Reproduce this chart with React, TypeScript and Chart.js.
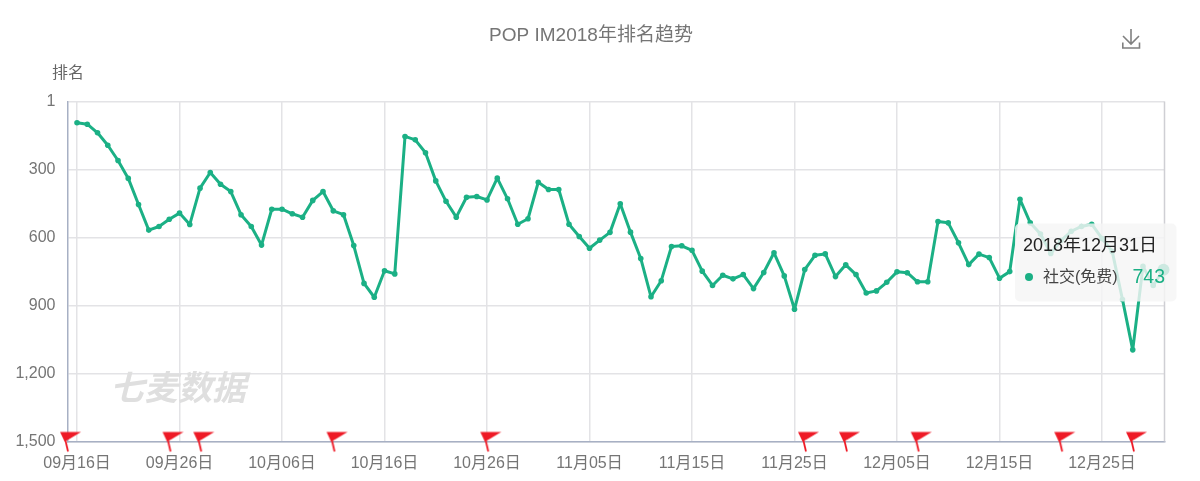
import { useEffect, useRef } from 'react';
import { Chart, registerables } from 'chart.js';

Chart.register(...registerables);

const FONT = '"Liberation Sans", "Noto Sans CJK SC", sans-serif';
const GREEN = '#1bb085';

// days since 09-16, one value per day up to 12-31
const ranks = [
  95, 101, 139, 194, 261, 340, 455, 568, 552, 520,
  493, 543, 383, 314, 366, 398, 500, 552, 634, 476,
  476, 496, 511, 437, 398, 483, 500, 636, 803, 864,
  747, 761, 155, 170, 227, 351, 441, 511, 423, 420,
  435, 339, 430, 542, 518, 357, 389, 389, 542, 596,
  648, 612, 578, 452, 577, 693, 862, 791, 640, 637,
  657, 749, 812, 767, 783, 764, 826, 755, 668, 770,
  917, 742, 679, 673, 773, 721, 764, 845, 836, 798,
  752, 756, 796, 796, 530, 536, 624, 720, 674, 689,
  780, 751, 432, 536, 585, 671, 614, 573, 552, 542,
  605, 662, 874, 1096, 728, 812, 743,
];
const tickDays = [0, 10, 20, 30, 40, 50, 60, 70, 80, 90, 100];
const tickLabels = [
  '09月16日', '09月26日', '10月06日', '10月16日', '10月26日', '11月05日',
  '11月15日', '11月25日', '12月05日', '12月15日', '12月25日',
];
const rankTicks = [1, 300, 600, 900, 1200, 1500];
const flagDays = [0, 10, 13, 26, 41, 72, 76, 83, 97, 104];

const hoverIndex = ranks.length - 1;

// flag marker, the pole foot sits 9px left of the date it belongs to
function makeFlag() {
  const c = document.createElement('canvas');
  c.width = 36;
  c.height = 26;
  const g = c.getContext('2d')!;
  g.fillStyle = '#ee1a26';
  g.beginPath();
  g.moveTo(1, 3.5);
  g.lineTo(22, 3.5);
  g.lineTo(9.5, 11);
  g.lineTo(5.5, 13);
  g.closePath();
  g.fill();
  g.strokeStyle = '#ee1a26';
  g.lineWidth = 1.8;
  g.beginPath();
  g.moveTo(5, 6);
  g.lineTo(9, 23);
  g.stroke();
  return c;
}

const decorations = {
  id: 'decorations',
  beforeDatasetsDraw(chart: any) {
    const { ctx, chartArea } = chart;
    ctx.save();
    // right edge of the plot
    ctx.strokeStyle = '#cfcfd4';
    ctx.lineWidth = 1.5;
    ctx.beginPath();
    ctx.moveTo(chartArea.right, chartArea.top);
    ctx.lineTo(chartArea.right, chartArea.bottom);
    ctx.stroke();
    // watermark
    ctx.fillStyle = '#dfdfdf';
    ctx.font = `italic bold 34px ${FONT}`;
    ctx.textAlign = 'left';
    ctx.textBaseline = 'middle';
    ctx.fillText('七麦数据', 110, 391);
    ctx.restore();
  },
  afterDraw(chart: any) {
    const { ctx } = chart;
    ctx.save();

    // title + y axis name
    ctx.textBaseline = 'middle';
    ctx.textAlign = 'center';
    ctx.fillStyle = '#757575';
    ctx.font = `19px ${FONT}`;
    ctx.fillText('POP IM2018年排名趋势', 591, 36);
    ctx.textAlign = 'left';
    ctx.fillStyle = '#666';
    ctx.font = `16px ${FONT}`;
    ctx.fillText('排名', 52, 74);

    // download icon
    ctx.strokeStyle = '#808080';
    ctx.lineWidth = 1.6;
    ctx.beginPath();
    ctx.moveTo(1131, 29);
    ctx.lineTo(1131, 44);
    ctx.moveTo(1123, 36);
    ctx.lineTo(1131, 44);
    ctx.lineTo(1139, 36);
    ctx.moveTo(1122.8, 42.5);
    ctx.lineTo(1122.8, 48);
    ctx.lineTo(1139.5, 48);
    ctx.lineTo(1139.5, 42.5);
    ctx.stroke();

    // tooltip box for the last day
    ctx.fillStyle = 'rgba(245, 245, 245, 0.82)';
    ctx.beginPath();
    ctx.roundRect(1015, 223.5, 161.5, 78, 5);
    ctx.fill();
    ctx.fillStyle = '#222';
    ctx.font = `18px ${FONT}`;
    ctx.fillText('2018年12月31日', 1023, 246);
    ctx.fillStyle = GREEN;
    ctx.beginPath();
    ctx.arc(1029, 277, 4, 0, Math.PI * 2);
    ctx.fill();
    ctx.fillStyle = '#444';
    ctx.font = `16px ${FONT}`;
    ctx.fillText('社交(免费)', 1043, 278);
    ctx.fillStyle = GREEN;
    ctx.font = `19.5px ${FONT}`;
    ctx.textAlign = 'right';
    ctx.fillText(String(ranks[hoverIndex]), 1165, 278);
    ctx.restore();
  },
};

export default function App() {
  const canvasRef = useRef<HTMLCanvasElement>(null);

  useEffect(() => {
    if (!canvasRef.current) return;
    document.body.style.margin = '0';

    const chart = new Chart(canvasRef.current, {
      type: 'line',
      data: {
        datasets: [
          {
            label: '社交(免费)',
            data: ranks.map((v, i) => ({ x: i, y: v })),
            borderColor: GREEN,
            backgroundColor: GREEN,
            borderWidth: 3,
            borderJoinStyle: 'round',
            tension: 0,
            pointRadius: (c: any) => (c.dataIndex === hoverIndex ? 6 : 2.8),
            pointBackgroundColor: GREEN,
            pointBorderWidth: 0,
            clip: false,
          },
          {
            label: 'flags',
            data: flagDays.map((d) => ({ x: d, y: 1500 })),
            showLine: false,
            pointStyle: makeFlag(),
            clip: false,
          },
        ],
      } as any,
      plugins: [decorations],
      options: {
        responsive: false,
        animation: false,
        events: [],
        layout: { padding: { top: 101.5, right: 35.5, left: 0, bottom: 0 } },
        plugins: {
          legend: { display: false },
          tooltip: { enabled: false },
        },
        scales: {
          x: {
            type: 'linear',
            min: -0.93,
            max: 106.1,
            afterFit: (s: any) => { s.height = 39.5; },
            afterBuildTicks: (s: any) => { s.ticks = tickDays.map((v) => ({ value: v })); },
            border: { color: '#a7b0c4', width: 1.5 },
            grid: { color: '#e3e3e6', lineWidth: 1.5, drawTicks: false },
            ticks: {
              autoSkip: false,
              maxRotation: 0,
              padding: 12,
              color: '#757575',
              font: { family: FONT, size: 16 },
              callback: (v: any) => tickLabels[tickDays.indexOf(v)],
            },
          },
          y: {
            type: 'linear',
            reverse: true,
            min: 1,
            max: 1500,
            afterFit: (s: any) => { s.width = 67.5; },
            afterBuildTicks: (s: any) => { s.ticks = rankTicks.map((v) => ({ value: v })); },
            border: { color: '#a7b0c4', width: 1.5 },
            grid: { color: '#e3e3e6', lineWidth: 1.5, drawTicks: false },
            ticks: {
              padding: 12,
              color: '#757575',
              font: { family: FONT, size: 16 },
              callback: (v: any) => Number(v).toLocaleString('en-US'),
            },
          },
        },
      },
    } as any);

    return () => {
      chart.destroy();
    };
  }, []);

  return <canvas ref={canvasRef} width={1200} height={481} style={{ display: 'block' }} />;
}
